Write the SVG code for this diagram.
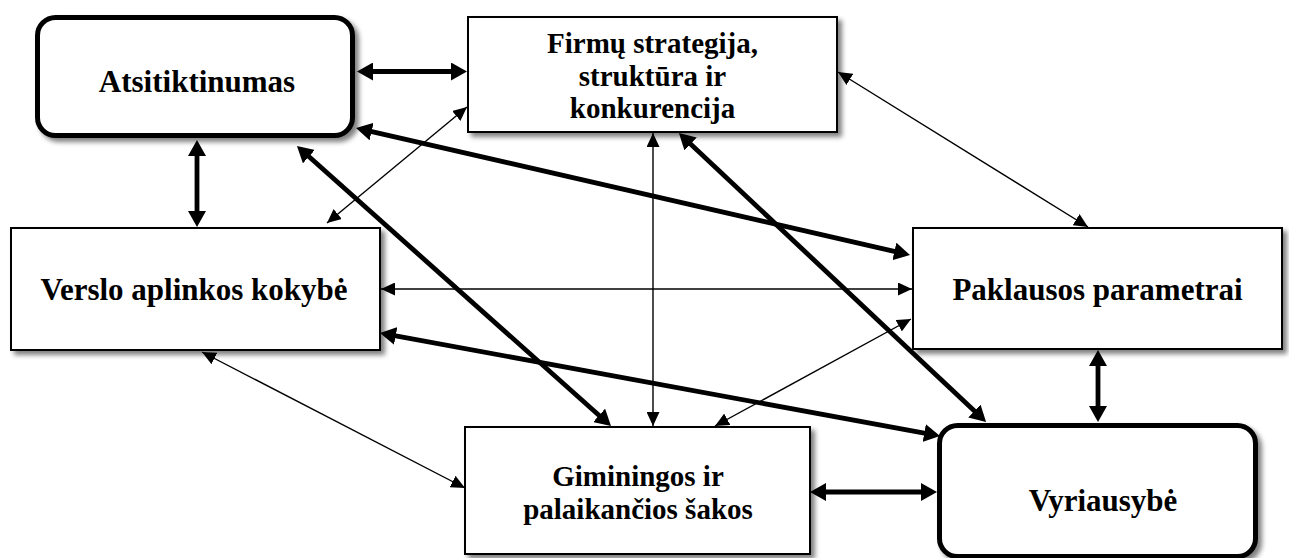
<svg xmlns="http://www.w3.org/2000/svg" width="1289" height="558" viewBox="0 0 1289 558">
  <style>
    .box { fill: #ffffff; stroke: #000000; stroke-width: 2; filter: url(#shadow); }
    .rbox { fill: #ffffff; stroke: #000000; stroke-width: 5; filter: url(#shadow); }
    .label { font-family: "Liberation Serif", "Times New Roman", serif; font-weight: bold; font-size: 31px; fill: #000000; text-anchor: middle; }
    .multi { font-size: 29px; }
    .thin { stroke: #000000; stroke-width: 1.4; fill: none; marker-start: url(#headThin); marker-end: url(#headThin); }
    .thick { stroke: #000000; stroke-width: 4.8; fill: none; marker-start: url(#headThick); marker-end: url(#headThick); }
  </style>
  <defs>
    <filter id="shadow" x="-10%" y="-10%" width="130%" height="130%">
      <feGaussianBlur in="SourceAlpha" stdDeviation="2.5"/>
      <feOffset dx="4" dy="4" result="blur"/>
      <feComponentTransfer><feFuncA type="linear" slope="0.5"/></feComponentTransfer>
      <feMerge><feMergeNode/><feMergeNode in="SourceGraphic"/></feMerge>
    </filter>
    <marker id="headThin" markerUnits="userSpaceOnUse" markerWidth="14" markerHeight="13" refX="14" refY="6.5" orient="auto-start-reverse">
      <path d="M0,0 L14,6.5 L0,13 Z" fill="#000000"/>
    </marker>
    <marker id="headThick" markerUnits="userSpaceOnUse" markerWidth="16" markerHeight="18" refX="11" refY="9" orient="auto-start-reverse">
      <path d="M0,0 L16,9 L0,18 Z" fill="#000000"/>
    </marker>
  </defs>

  <!-- connectors: every link is two-way -->
  <g id="connectors">
    <line class="thick" x1="362" y1="71.5" x2="462" y2="71.5"/>
    <line class="thick" x1="197" y1="145" x2="197" y2="222"/>
    <line class="thick" x1="300.7" y1="149.3" x2="607.3" y2="422.7"/>
    <line class="thick" x1="360.9" y1="129.1" x2="905.1" y2="253.9"/>
    <line class="thick" x1="682.6" y1="136.4" x2="982.4" y2="418.6"/>
    <line class="thick" x1="384.9" y1="333.9" x2="935.1" y2="435.1"/>
    <line class="thick" x1="1098" y1="355" x2="1098" y2="417"/>
    <line class="thick" x1="815" y1="492" x2="932" y2="492"/>
    <line class="thin" x1="467" y1="107" x2="327" y2="223"/>
    <line class="thin" x1="838" y1="72" x2="1088" y2="227"/>
    <line class="thin" x1="653" y1="133" x2="653" y2="426"/>
    <line class="thin" x1="381" y1="289" x2="912" y2="289"/>
    <line class="thin" x1="202" y1="352" x2="465" y2="488"/>
    <line class="thin" x1="911" y1="319" x2="715" y2="426"/>
  </g>

  <g id="atsitiktinumas">
    <rect class="rbox" x="37.5" y="17.5" width="315" height="118" rx="18"/>
    <text class="label" x="197" y="92">Atsitiktinumas</text>
  </g>

  <g id="firmu-strategija">
    <rect class="box" x="468" y="17" width="369" height="115"/>
    <text class="label multi" x="652.5" y="53">Firmų strategija,<tspan x="652.5" dy="32.5">struktūra ir</tspan><tspan x="652.5" dy="32.5">konkurencija</tspan></text>
  </g>

  <g id="verslo-aplinka">
    <rect class="box" x="11" y="228" width="369" height="122"/>
    <text class="label" x="194" y="300">Verslo aplinkos kokybė</text>
  </g>

  <g id="paklausos-parametrai">
    <rect class="box" x="913" y="228" width="369" height="121"/>
    <text class="label" x="1097.5" y="300">Paklausos parametrai</text>
  </g>

  <g id="giminingos-sakos">
    <rect class="box" x="465" y="427" width="345" height="127"/>
    <text class="label multi" x="638" y="486">Giminingos ir<tspan x="638" dy="32.5">palaikančios šakos</tspan></text>
  </g>

  <g id="vyriausybe">
    <rect class="rbox" x="939.5" y="425.5" width="316" height="131" rx="18"/>
    <text class="label" x="1103" y="511">Vyriausybė</text>
  </g>
</svg>
